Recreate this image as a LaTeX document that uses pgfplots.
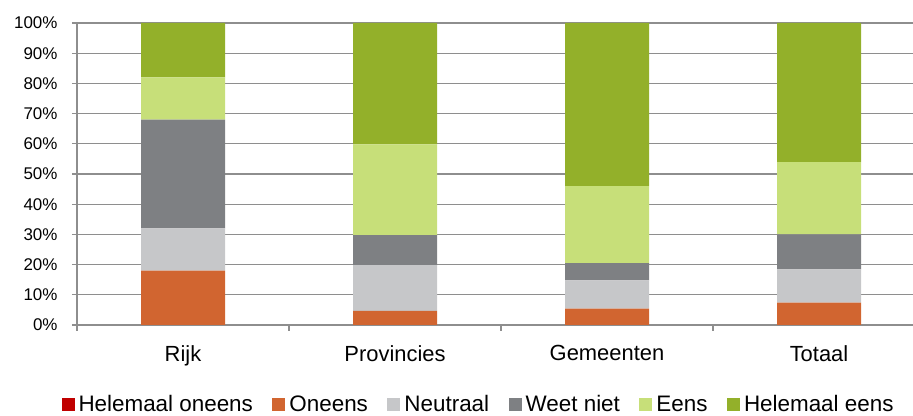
\documentclass[border=0pt]{standalone}
\usepackage{fontspec}
\setmainfont{Liberation Sans}
\usepackage{pgfplots}
\usepackage{pgfplotstable}
\pgfplotsset{compat=1.18}
\definecolor{cHO}{HTML}{C00000}
\definecolor{cO}{HTML}{D16530}
\definecolor{cN}{HTML}{C6C7C9}
\definecolor{cW}{HTML}{7E8083}
\definecolor{cE}{HTML}{C7DF79}
\definecolor{cHE}{HTML}{93B02A}
\definecolor{gridgray}{HTML}{8E8E8E}
\pgfplotsset{sqleg/.style={legend image code/.code={\fill[##1] (0bp,-6.5bp) rectangle (13bp,6.5bp);}}}
\pgfplotstableread{
x HO O N W E HE
0 0 18 14 36 14 18
1 0 4.7 15.1 10.0 30.0 40.2
2 0 5.4 9.4 5.7 25.5 54.0
3 0 7.4 11.0 11.6 23.9 46.1
}\datatable
\begin{document}
\begin{tikzpicture}
\useasboundingbox (0,0) rectangle (913bp,416bp);
\clip (0,0) rectangle (913bp,416bp);
\begin{axis}[
  at={(77bp,91bp)}, anchor=south west,
  scale only axis, width=848bp, height=302bp,
  xmin=-0.5, xmax=3.5, ymin=0, ymax=100,
  ybar stacked, bar width=84bp,
  axis x line*=bottom, axis y line*=left,
  axis line style={draw=gridgray, line width=1.2bp, -},
  xtick={0,1,2,3},
  xticklabels={Rijk,Provincies,Gemeenten,Totaal},
  minor xtick={-0.5,0.5,1.5,2.5,3.5},
  major x tick style={draw=none},
  minor x tick style={draw=gridgray, line width=1.2bp},
  minor tick length=6bp,
  ytick={0,10,...,100},
  yticklabels={0\%,10\%,20\%,30\%,40\%,50\%,60\%,70\%,80\%,90\%,100\%},
  major y tick style={draw=gridgray, line width=1.2bp},
  major tick length=5bp,
  tick align=outside,
  ymajorgrids,
  grid style={draw=gridgray, line width=1.2bp},
  /pgf/number format/assume math mode=true,
  yticklabel style={font=\fontsize{17}{20}\selectfont, text=black, xshift=-11bp},
  xticklabel style={font=\fontsize{22}{26}\selectfont, text=black, yshift=-12bp},
  legend style={at={(0.4735,-0.262)}, anchor=center, draw=none, fill=none,
    legend columns=-1, font=\fontsize{22.5}{26}\selectfont,
    /tikz/every odd column/.append style={column sep=2bp},
    /tikz/every even column/.append style={column sep=17.5bp}},
]
\addplot[fill=cHO, draw=none, sqleg] table[x=x,y=HO] {\datatable};
\addplot[fill=cO, draw=none, sqleg] table[x=x,y=O] {\datatable};
\addplot[fill=cN, draw=none, sqleg] table[x=x,y=N] {\datatable};
\addplot[fill=cW, draw=none, sqleg] table[x=x,y=W] {\datatable};
\addplot[fill=cE, draw=none, sqleg] table[x=x,y=E] {\datatable};
\addplot[fill=cHE, draw=none, sqleg] table[x=x,y=HE] {\datatable};
\legend{Helemaal oneens,Oneens,Neutraal,Weet niet,Eens,Helemaal eens}
\end{axis}
\end{tikzpicture}
\end{document}
